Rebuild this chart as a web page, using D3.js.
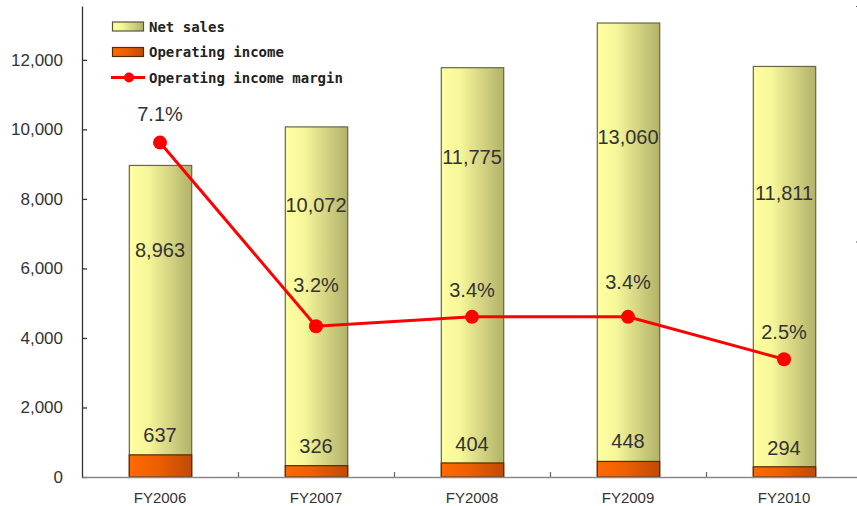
<!DOCTYPE html>
<html>
<head>
<meta charset="utf-8">
<script src="https://cdn.jsdelivr.net/npm/d3@7"></script>
<style>
  html, body { margin: 0; padding: 0; background: #fff; }
  svg { display: block; }
</style>
</head>
<body>
<svg id="chart" width="857" height="506"></svg>
<script>
// Data
const years = ["FY2006", "FY2007", "FY2008", "FY2009", "FY2010"];
const netSales = [8963, 10072, 11775, 13060, 11811];
const operatingIncome = [637, 326, 404, 448, 294];
const marginPct = [7.1, 3.2, 3.4, 3.4, 2.5];
const salesTicks = [0, 2000, 4000, 6000, 8000, 10000, 12000];
const marginTicks = [0, 5, 10];

// Where each value label sits, in axis units
const netLabelAt = [6530, 7830, 9220, 9790, 8170];
const incomeLabelAt = [1210, 890, 950, 1035, 845];
const marginLabelAt = [7.7, 4.08, 3.98, 4.15, 3.08];

const fmt = d3.format(",");
const svg = d3.select("#chart");

const plotLeft = 82, plotRight = 862, plotTop = 6, plotBottom = 477;

const x = d3.scaleBand().domain(years).range([plotLeft, plotRight]).paddingInner(0.6).paddingOuter(0.3);
const xc = d => x(d) + x.bandwidth() / 2;
const y = d3.scaleLinear().domain([0, 13550]).range([plotBottom, plotTop]);
const y2 = d3.scaleLinear().domain([0, 10]).range([plotBottom, plotTop]);

// Gradients
const defs = svg.append("defs");
function grad(id, stops) {
  const g = defs.append("linearGradient").attr("id", id)
    .attr("x1", "0%").attr("x2", "100%").attr("y1", "0%").attr("y2", "0%");
  stops.forEach(s => g.append("stop").attr("offset", s[0]).attr("stop-color", s[1]));
}
grad("gSales", [["0%", "#FFFFA2"], ["30%", "#F6F69A"], ["100%", "#B2B26A"]]);
grad("gIncome", [["0%", "#FF6A00"], ["45%", "#EE5F00"], ["100%", "#BF4A08"]]);

// Net sales bars
svg.append("g").selectAll("rect").data(years).join("rect")
  .attr("x", d => x(d) + 0.5)
  .attr("y", (d, i) => y(netSales[i]))
  .attr("width", x.bandwidth())
  .attr("height", (d, i) => y(0) - y(netSales[i]))
  .attr("fill", "url(#gSales)")
  .attr("stroke", "#66664a").attr("stroke-width", 1.2);

// Operating income bars
svg.append("g").selectAll("rect").data(years).join("rect")
  .attr("x", d => x(d) + 0.5)
  .attr("y", (d, i) => y(operatingIncome[i]))
  .attr("width", x.bandwidth())
  .attr("height", (d, i) => y(0) - y(operatingIncome[i]))
  .attr("fill", "url(#gIncome)")
  .attr("stroke", "#5a2a00").attr("stroke-width", 1.2);

// Axes
const yAxis = d3.axisLeft(y).tickValues(salesTicks).tickFormat(fmt).tickSizeInner(-5).tickSizeOuter(0).tickPadding(19);
const gy = svg.append("g").attr("transform", `translate(${plotLeft},0)`).call(yAxis);
gy.select(".domain").attr("stroke", "#333").attr("stroke-width", 1.3);
gy.selectAll(".tick line").attr("stroke", "#333").attr("stroke-width", 1.3);
gy.selectAll("text").attr("font-family", "'Liberation Sans', Arial, sans-serif")
  .attr("font-size", 17).attr("fill", "#333");

// Secondary (margin) axis: sits just past the right edge, only its tick marks reach inside
const y2Axis = d3.axisRight(y2).tickValues(marginTicks).tickFormat("").tickSizeInner(-6).tickSizeOuter(0);
const gy2 = svg.append("g").attr("transform", `translate(${plotRight},0)`).call(y2Axis);
gy2.select(".domain").attr("stroke", "#555");
gy2.selectAll(".tick line").attr("stroke", "#555");
gy2.selectAll("text").remove();

const xAxis = d3.axisBottom(x).tickSize(0).tickPadding(0);
const gx = svg.append("g").attr("transform", `translate(0,${plotBottom})`).call(xAxis);
gx.select(".domain").attr("stroke", "#8a8a8a").attr("stroke-width", 1.3);
gx.selectAll("text").attr("dy", null).attr("y", 26)
  .attr("font-family", "'Liberation Sans', Arial, sans-serif")
  .attr("font-size", 15).attr("fill", "#333");
// category separators
svg.append("g").selectAll("line").data(years.slice(1)).join("line")
  .attr("x1", d => x(d) - x.step() * x.paddingInner() / 2 + 0.5)
  .attr("x2", d => x(d) - x.step() * x.paddingInner() / 2 + 0.5)
  .attr("y1", plotBottom).attr("y2", plotBottom - 5)
  .attr("stroke", "#666").attr("stroke-width", 1.2);

// Margin line
const line = d3.line().x((d, i) => xc(years[i])).y(d => y2(d));
svg.append("path").datum(marginPct).attr("d", line)
  .attr("fill", "none").attr("stroke", "#FF0000").attr("stroke-width", 3);
svg.append("g").selectAll("circle").data(marginPct).join("circle")
  .attr("cx", (d, i) => xc(years[i])).attr("cy", d => y2(d)).attr("r", 7)
  .attr("fill", "#FF0000");

// Value labels
const labelFont = "'Liberation Sans', Arial, sans-serif";
function labels(values, at, scale, text) {
  svg.append("g").selectAll("text").data(values).join("text")
    .attr("x", (d, i) => xc(years[i]))
    .attr("y", (d, i) => scale(at[i]))
    .attr("dy", "0.35em")
    .attr("text-anchor", "middle")
    .attr("font-family", labelFont).attr("font-size", 20).attr("fill", "#333")
    .text(text);
}
labels(netSales, netLabelAt, y, d => fmt(d));
labels(operatingIncome, incomeLabelAt, y, d => fmt(d));
labels(marginPct, marginLabelAt, y2, d => d.toFixed(1) + "%");

// Legend
const legend = svg.append("g");
const legendFont = "'DejaVu Sans Mono', monospace";
const items = [
  { name: "Net sales", type: "box", fill: "url(#gSales)", stroke: "#55553a", cy: 26.5 },
  { name: "Operating income", type: "box", fill: "url(#gIncome)", stroke: "#5a2a00", cy: 52 },
  { name: "Operating income margin", type: "line", cy: 77.5 }
];
items.forEach(it => {
  if (it.type === "box") {
    legend.append("rect").attr("x", 112.5).attr("y", it.cy - 4.5).attr("width", 31).attr("height", 9)
      .attr("fill", it.fill).attr("stroke", it.stroke).attr("stroke-width", 1.2);
  } else {
    legend.append("line").attr("x1", 111).attr("x2", 145).attr("y1", it.cy).attr("y2", it.cy)
      .attr("stroke", "#FF0000").attr("stroke-width", 3);
    legend.append("circle").attr("cx", 129).attr("cy", it.cy).attr("r", 5).attr("fill", "#FF0000");
  }
  legend.append("text").attr("x", 149).attr("y", it.cy + 5.3)
    .attr("font-family", legendFont).attr("font-weight", "bold").attr("font-size", 14)
    .attr("fill", "#222").text(it.name);
});
</script>
</body>
</html>
